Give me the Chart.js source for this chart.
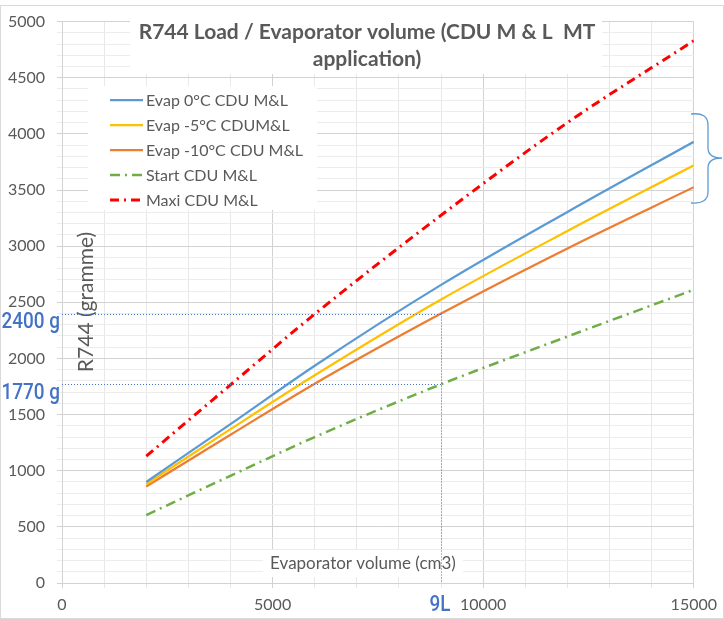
<!DOCTYPE html>
<html>
<head>
<meta charset="utf-8">
<script src="https://cdn.jsdelivr.net/npm/chart.js@4.4.1/dist/chart.umd.min.js"></script>
<style>
  body { margin: 0; background: #fff; }
</style>
</head>
<body>
<canvas id="chart" width="724" height="619"></canvas>
<script>
// R744 load vs evaporator volume
const volumes = [2000, 4000, 6000, 9000, 12000, 15000];
const evap0 = [900, 1415, 1935, 2655, 3305, 3930];
const evapM5 = [880, 1370, 1850, 2525, 3135, 3720];
const evapM10 = [860, 1320, 1775, 2400, 2980, 3525];
const startCdu = [605, 955, 1300, 1770, 2195, 2612];
const maxiCdu = [1130, 1765, 2395, 3275, 4100, 4830];
const seriesNames = ['Evap 0°C CDU M&L', 'Evap -5°C CDUM&L', 'Evap -10°C CDU M&L', 'Start CDU M&L', 'Maxi CDU M&L'];
const markedLoads = [2400, 1770];
const markedVolume = 9000;

const GRAY = '#595959';
const FONT = 'Lato, "Open Sans", sans-serif';
const BLUE_FONT = '500 22px Roboto, sans-serif';

function pts(vals) {
  return vals.map((v, i) => ({ x: volumes[i], y: v }));
}

// condensed text: squeeze horizontally around the anchor point
function narrowText(ctx, txt, x, y, align) {
  ctx.save();
  ctx.translate(x, y);
  ctx.scale(0.86, 1);
  ctx.textAlign = align;
  ctx.fillText(txt, 0, 0);
  ctx.restore();
}

const decor = {
  id: 'decor',
  afterDraw(chart) {
    const ctx = chart.ctx;
    const a = chart.chartArea;
    const xs = chart.scales.x, ys = chart.scales.y;
    ctx.save();

    // outer frame
    ctx.strokeStyle = '#d9d9d9';
    ctx.lineWidth = 1;
    ctx.strokeRect(0.5, 5.5, chart.width - 1, chart.height - 6);

    // title
    ctx.fillStyle = '#fff';
    ctx.fillRect(130, 14, 472, 60);
    ctx.fillStyle = GRAY;
    ctx.font = 'bold 21px ' + FONT;
    ctx.textAlign = 'center';
    ctx.textBaseline = 'middle';
    ctx.fillText('R744 Load / Evaporator volume (CDU M & L  MT', 367, 32);
    ctx.fillText('application)', 367, 59);

    // legend
    ctx.fillStyle = '#fff';
    ctx.fillRect(88, 86, 229, 124);
    ctx.font = '16px ' + FONT;
    ctx.textAlign = 'left';
    chart.data.datasets.forEach((ds, i) => {
      const yy = 100 + i * 25;
      ctx.strokeStyle = ds.borderColor;
      ctx.lineWidth = ds.borderWidth;
      ctx.setLineDash(ds.borderDash || []);
      ctx.beginPath();
      ctx.moveTo(110, yy);
      ctx.lineTo(143, yy);
      ctx.stroke();
      ctx.setLineDash([]);
      ctx.fillStyle = GRAY;
      ctx.fillText(ds.label, 146, yy + 1);
    });

    // axis titles
    ctx.fillStyle = '#fff';
    ctx.fillRect(263, 550, 200, 27);
    ctx.fillStyle = GRAY;
    ctx.font = '17px ' + FONT;
    ctx.textAlign = 'center';
    ctx.fillText('Evaporator volume (cm3)', 363, 564);
    ctx.save();
    ctx.translate(86, 302);
    ctx.rotate(-Math.PI / 2);
    ctx.font = '21px ' + FONT;
    ctx.fillText('R744 (gramme)', 0, 0);
    ctx.restore();

    // dotted reading lines
    const px = xs.getPixelForValue(markedVolume);
    ctx.strokeStyle = '#4472C4';
    ctx.lineWidth = 1;
    ctx.setLineDash([1, 2]);
    markedLoads.forEach(v => {
      const py = Math.round(ys.getPixelForValue(v)) + 0.5;
      ctx.beginPath();
      ctx.moveTo(a.left, py);
      ctx.lineTo(px, py);
      ctx.stroke();
    });
    ctx.beginPath();
    ctx.moveTo(Math.round(px) + 0.5, ys.getPixelForValue(markedLoads[0]));
    ctx.lineTo(Math.round(px) + 0.5, a.bottom);
    ctx.stroke();
    ctx.setLineDash([]);

    ctx.fillStyle = '#4472C4';
    ctx.font = BLUE_FONT;
    markedLoads.forEach(v => {
      narrowText(ctx, v + ' g', 60, ys.getPixelForValue(v) + 9, 'right');
    });
    narrowText(ctx, '9L', px - 1, 605, 'center');

    // bracket around the evaporator curves
    ctx.strokeStyle = '#5B9BD5';
    ctx.lineWidth = 1.3;
    ctx.beginPath();
    ctx.moveTo(691, 114);
    ctx.quadraticCurveTo(708, 112, 708, 125);
    ctx.lineTo(708, 148);
    ctx.quadraticCurveTo(708, 158, 722, 158);
    ctx.quadraticCurveTo(708, 158, 708, 168);
    ctx.lineTo(708, 192);
    ctx.quadraticCurveTo(708, 204, 691, 203);
    ctx.stroke();

    ctx.restore();
  }
};

new Chart(document.getElementById('chart'), {
  type: 'line',
  data: {
    datasets: [
      { label: seriesNames[0], data: pts(evap0), borderColor: '#5B9BD5', borderWidth: 2.25 },
      { label: seriesNames[1], data: pts(evapM5), borderColor: '#FFC000', borderWidth: 2.25 },
      { label: seriesNames[2], data: pts(evapM10), borderColor: '#ED7D31', borderWidth: 2.25 },
      { label: seriesNames[3], data: pts(startCdu), borderColor: '#70AD47', borderWidth: 2.5, borderDash: [10, 5, 2, 5] },
      { label: seriesNames[4], data: pts(maxiCdu), borderColor: '#FF0000', borderWidth: 3, borderDash: [9, 5, 2, 5] }
    ]
  },
  options: {
    responsive: false,
    animation: false,
    events: [],
    layout: { padding: { top: 17, right: 27, left: 0, bottom: 0 } },
    elements: {
      point: { radius: 0 },
      line: { cubicInterpolationMode: 'monotone', fill: false }
    },
    plugins: {
      legend: { display: false },
      title: { display: false },
      tooltip: { enabled: false }
    },
    scales: {
      x: {
        type: 'linear',
        min: 0,
        max: 15000,
        afterFit: s => { s.height = 36; },
        ticks: {
          stepSize: 1000,
          autoSkip: false,
          maxRotation: 0,
          padding: 7,
          color: GRAY,
          font: { family: FONT, size: 16 },
          callback: v => (v % 5000 === 0 ? v : '')
        },
        grid: {
          color: c => (c.tick && c.tick.value % 5000 === 0 ? '#d2d2d2' : '#e8e8e8'),
          tickLength: 5
        },
        border: { color: '#d2d2d2' }
      },
      y: {
        min: 0,
        max: 5000,
        afterFit: s => { s.width = 62; },
        ticks: {
          stepSize: 100,
          autoSkip: false,
          padding: 12,
          color: GRAY,
          font: { family: FONT, size: 16 },
          callback: v => (v % 500 === 0 ? v : '')
        },
        grid: {
          color: c => (c.tick && c.tick.value % 500 === 0 ? '#d2d2d2' : '#ececec'),
          tickLength: 5
        },
        border: { color: '#d2d2d2' }
      }
    }
  },
  plugins: [decor]
});
</script>
</body>
</html>
